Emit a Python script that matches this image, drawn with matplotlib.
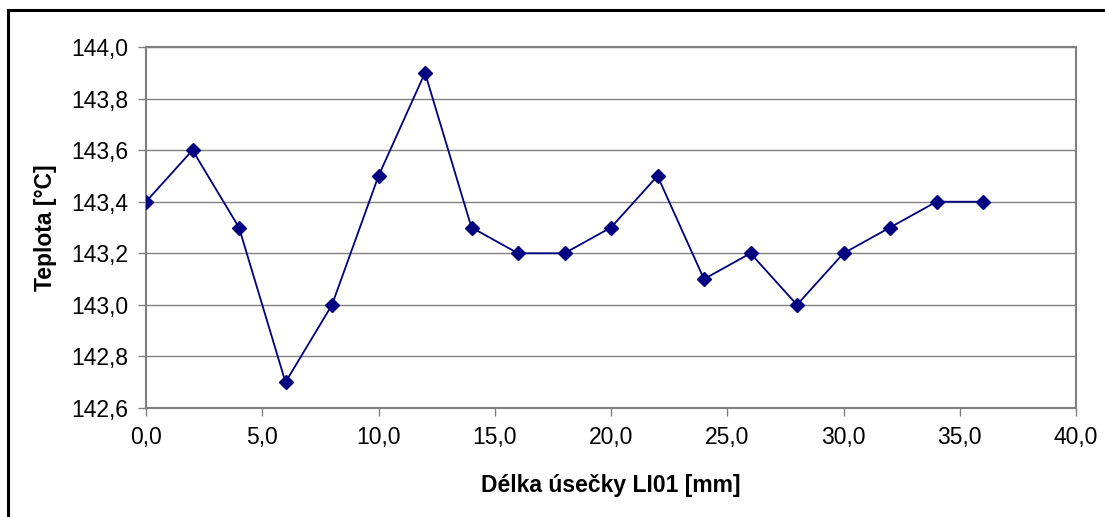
import matplotlib
matplotlib.use("Agg")
import matplotlib.pyplot as plt
import matplotlib.ticker as mticker
from matplotlib.lines import Line2D

# ── Data ──────────────────────────────────────────────────────────────────────
delka = [0, 2, 4, 6, 8, 10, 12, 14, 16, 18, 20, 22, 24, 26, 28, 30, 32, 34, 36]
teplota = [143.4, 143.6, 143.3, 142.7, 143.0, 143.5, 143.9, 143.3, 143.2, 143.2,
           143.3, 143.5, 143.1, 143.2, 143.0, 143.2, 143.3, 143.4, 143.4]

NAVY = "#000080"
GRAY = "#808080"

plt.rcParams.update({
    "font.family": ["Liberation Sans", "DejaVu Sans"],
    "font.size": 16.5,
})

fig = plt.figure(figsize=(11.05, 5.17), dpi=100)
ax = fig.add_axes([146 / 1105, 1 - 408 / 517, (1076 - 146) / 1105, (408 - 47) / 517])

ax.plot(delka, teplota, color=NAVY, linewidth=1.3, marker="D",
        markersize=7, markerfacecolor=NAVY, markeredgecolor=NAVY, zorder=3)

ax.set_xlim(0, 40)
ax.set_ylim(142.6, 144.0)
ax.xaxis.set_major_locator(mticker.MultipleLocator(5))
ax.yaxis.set_major_locator(mticker.MultipleLocator(0.2))
ax.xaxis.set_major_formatter(mticker.FuncFormatter(lambda v, p: f"{v:.1f}".replace(".", ",")))
ax.yaxis.set_major_formatter(mticker.FuncFormatter(lambda v, p: f"{v:.1f}".replace(".", ",")))

ax.grid(axis="y", color=GRAY, linewidth=1.0)
ax.set_axisbelow(True)
for s in ax.spines.values():
    s.set_color(GRAY)
    s.set_linewidth(1.5)
ax.tick_params(direction="out", length=6, width=1, color=GRAY, pad=7)

ax.set_xlabel("Délka úsečky LI01 [mm]", fontweight="bold", labelpad=18)
ax.set_ylabel("Teplota [°C]", fontweight="bold", labelpad=10)

# Rámeček grafu (jen horní a levá hrana)
fig.add_artist(Line2D([8 / 1105, 8 / 1105], [0, 1 - 10 / 517], color="black", lw=2.2,
                      transform=fig.transFigure))
fig.add_artist(Line2D([8 / 1105, 1], [1 - 10 / 517, 1 - 10 / 517], color="black", lw=2.2,
                      transform=fig.transFigure))

fig.savefig("out.png", dpi=100, facecolor="white")
